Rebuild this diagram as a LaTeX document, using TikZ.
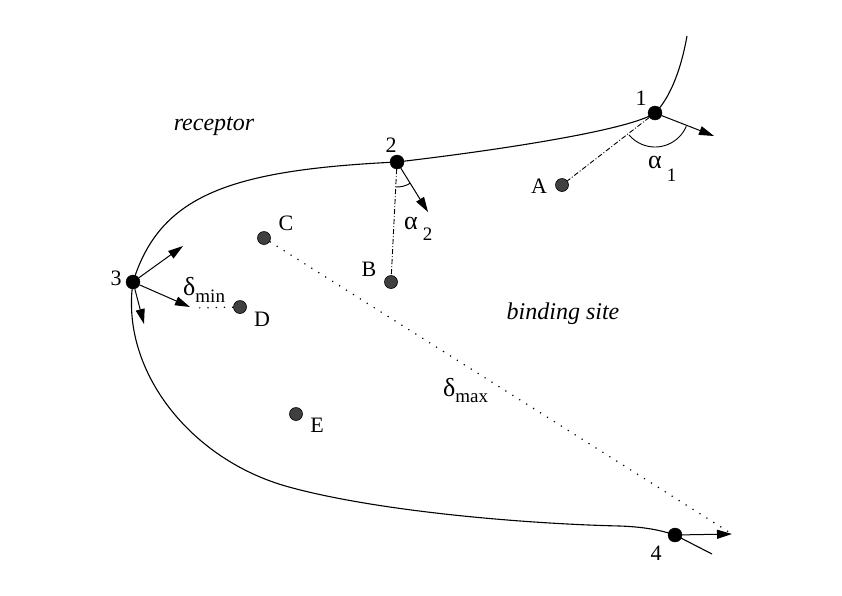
\documentclass[tikz,border=0pt]{standalone}
\usepackage{fontspec}
\setmainfont{Liberation Serif}
\usetikzlibrary{arrows.meta, positioning}
\tikzset{%
>={Triangle[width=9pt,length=15pt]},
  % Specifications for style of nodes:
            site/.style = {circle, draw=black, fill=black, inner sep=0pt,
                            minimum size=14pt},
            ligand/.style = {circle, draw=black, line width=0.6pt, fill=black!75,
                            inner sep=0pt, minimum size=13pt},
            lbl/.style = {inner sep=0pt, font=\fontsize{22}{26}\selectfont},
            region/.style = {inner sep=0pt, font=\fontsize{24}{28}\selectfont\itshape},
            greek/.style = {inner sep=0pt, anchor=base west, font=\fontsize{26}{30}\selectfont},
            surface/.style = {line width=1.1pt},
            vec/.style = {->, line width=1pt},
            link/.style = {line width=0.9pt, dash pattern=on 5pt off 2pt on 1pt off 2pt},
            gap/.style = {line width=1.2pt, dash pattern=on 1.2pt off 7pt}
}
\newcommand{\lowsub}[2]{\raisebox{-#1}{\fontsize{19}{19}\selectfont #2}}

\begin{document}
\begin{tikzpicture}[x=1pt, y=-1pt, node distance=20pt]
                \useasboundingbox (0,0) rectangle (842,595);

                % receptor surface
                \draw[surface] (687,36) .. controls (680,75) and (668,100) .. (655,113)
                    .. controls (630,130) and (500,150) .. (397,162)
                    .. controls (230,170) and (160,195) .. (133,282)
                    .. controls (120,370) and (190,460) .. (289,487)
                    .. controls (380,512) and (530,524) .. (620,526)
                    .. controls (645,527) and (660,530) .. (675,535) -- (712,554);

                % surface points
                \node[site] (p1) at (655,113) {};
                \node[site] (p2) at (397,162) {};
                \node[site] (p3) at (133,282) {};
                \node[site] (p4) at (675,535) {};

                % ligand atoms
                \node[ligand] (a) at (562,185) {};
                \node[ligand] (b) at (391,282) {};
                \node[ligand] (c) at (264,238) {};
                \node[ligand] (d) at (240,307) {};
                \node[ligand] (e) at (296,414) {};

                \node[lbl, left of=p1, xshift=6pt, yshift=15pt] (t1) {1};
                \node[lbl, above of=p2, xshift=-6pt, yshift=-3pt] (t2) {2};
                \node[lbl, left of=p3, xshift=3pt, yshift=4pt] (t3) {3};
                \node[lbl, below of=p4, xshift=-19pt, yshift=2pt] (t4) {4};
                \node[lbl, left of=a, xshift=-3pt, yshift=-1pt] (ta) {A};
                \node[lbl, left of=b, xshift=-2pt, yshift=13pt] (tb) {B};
                \node[lbl, right of=c, xshift=2pt, yshift=15pt] (tc) {C};
                \node[lbl, right of=d, xshift=2pt, yshift=-12pt] (td) {D};
                \node[lbl, right of=e, xshift=1pt, yshift=-11pt] (te) {E};

                % normal vectors
                \coordinate (n1) at (714,136);
                \coordinate (n2) at (428,212);
                \coordinate (n3a) at (183,246);
                \coordinate (n3b) at (190,307);
                \coordinate (n3c) at (144,324);
                \coordinate (n4) at (732,534);
                \draw[vec] (p1) -- (n1);
                \draw[vec] (p2) -- (n2);
                \draw[vec] (p3) -- (n3a);
                \draw[vec] (p3) -- (n3b);
                \draw[vec] (p3) -- (n3c);
                \draw[vec] (p4) -- (n4);

                % angles
                \draw[link] (p1) -- (a);
                \draw[link] (p2) -- (b);
                \draw[line width=0.9pt] (p1.center) ++(23:34) arc[start angle=23, end angle=140, radius=34];
                \draw[line width=0.9pt] (p2.center) ++(58:25) arc[start angle=58, end angle=93, radius=25];
                \node[greek] (al1) at (648,168) {α\hspace{5pt}\lowsub{13pt}{1}};
                \node[greek] (al2) at (404,229) {α\hspace{5pt}\lowsub{11pt}{2}};

                % distances
                \coordinate (dm) at (193,308);
                \draw[gap] (d) -- (dm);
                \draw[gap] (c) -- (n4);
                \node[greek] (dmin) at (183,295) {δ\lowsub{7pt}{min}};
                \node[greek] (dmax) at (443,396) {δ\lowsub{6pt}{max}};

                \node[region] (rec) at (214,126) {receptor};
                \node[region] (site) at (563,314) {binding site};

            \end{tikzpicture}
\end{document}
